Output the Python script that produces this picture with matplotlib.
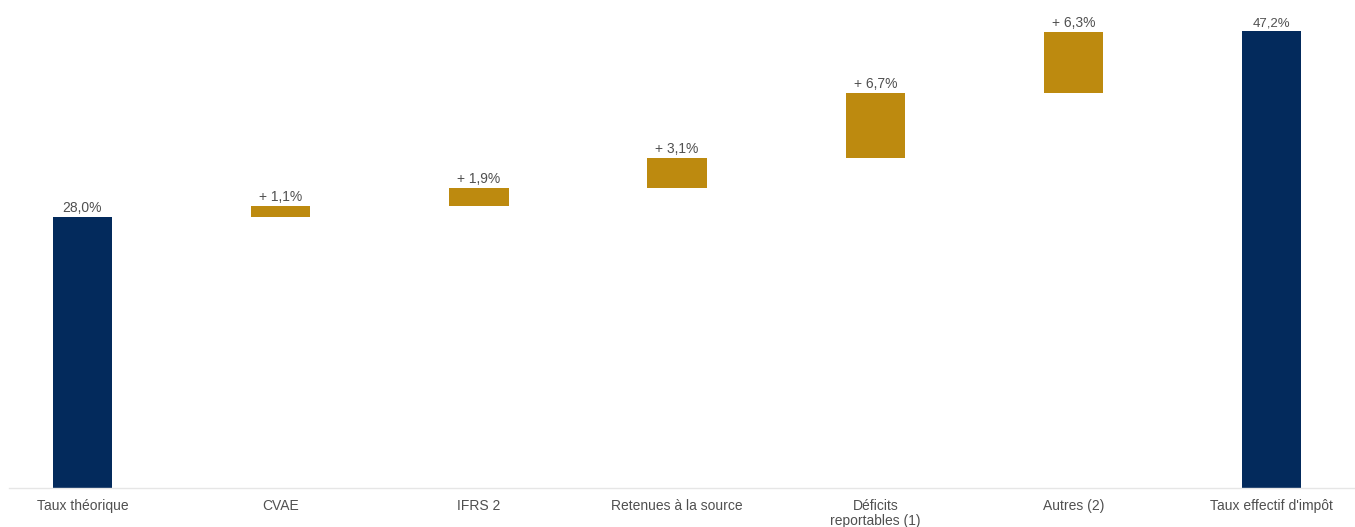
import matplotlib
matplotlib.use("Agg")
import matplotlib.pyplot as plt

categories = ["Taux théorique", "CVAE", "IFRS 2", "Retenues à la source",
              "Déficits\nreportables (1)", "Autres (2)", "Taux effectif d'impôt"]
start_value = 28.0
increments = [1.1, 1.9, 3.1, 6.7, 6.3]
end_value = 47.2

navy = "#032a5c"
gold = "#bd8a0f"
txt = "#505050"

plt.rcParams['font.family'] = ['Liberation Sans', 'DejaVu Sans']

fig = plt.figure(figsize=(13.55, 5.27), dpi=100)
ax = fig.add_axes([9/1355, 39/527, 1 - 9/1355, 1 - 39/527])

w = 0.30
x = list(range(len(categories)))

# start bar
ax.bar(x[0], start_value, width=w, color=navy)
ax.text(x[0], start_value + 0.2, f"{start_value:.1f}%".replace(".", ","),
        ha="center", va="bottom", fontsize=10, color=txt)

cum = start_value
for i, inc in enumerate(increments, start=1):
    ax.bar(x[i], inc, bottom=cum, width=w, color=gold)
    ax.text(x[i], cum + inc + 0.2, f"+ {inc:.1f}%".replace(".", ","),
            ha="center", va="bottom", fontsize=10, color=txt)
    cum += inc

ax.bar(x[-1], end_value, width=w, color=navy)
ax.text(x[-1], end_value + 0.2, f"{end_value:.1f}%".replace(".", ","),
        ha="center", va="bottom", fontsize=9.5, color=txt)

ax.set_xlim(-0.37, 6.42)
ax.set_ylim(0, 50.4)
ax.set_xticks(x)
ax.set_xticklabels(categories, fontsize=10, color=txt, linespacing=1.12)
ax.tick_params(axis="x", length=0, pad=8)
ax.set_yticks([])
for s in ["top", "right", "left"]:
    ax.spines[s].set_visible(False)
ax.spines["bottom"].set_color("#e6e6e6")
ax.spines["bottom"].set_linewidth(1)

fig.savefig("out.png", dpi=100)
